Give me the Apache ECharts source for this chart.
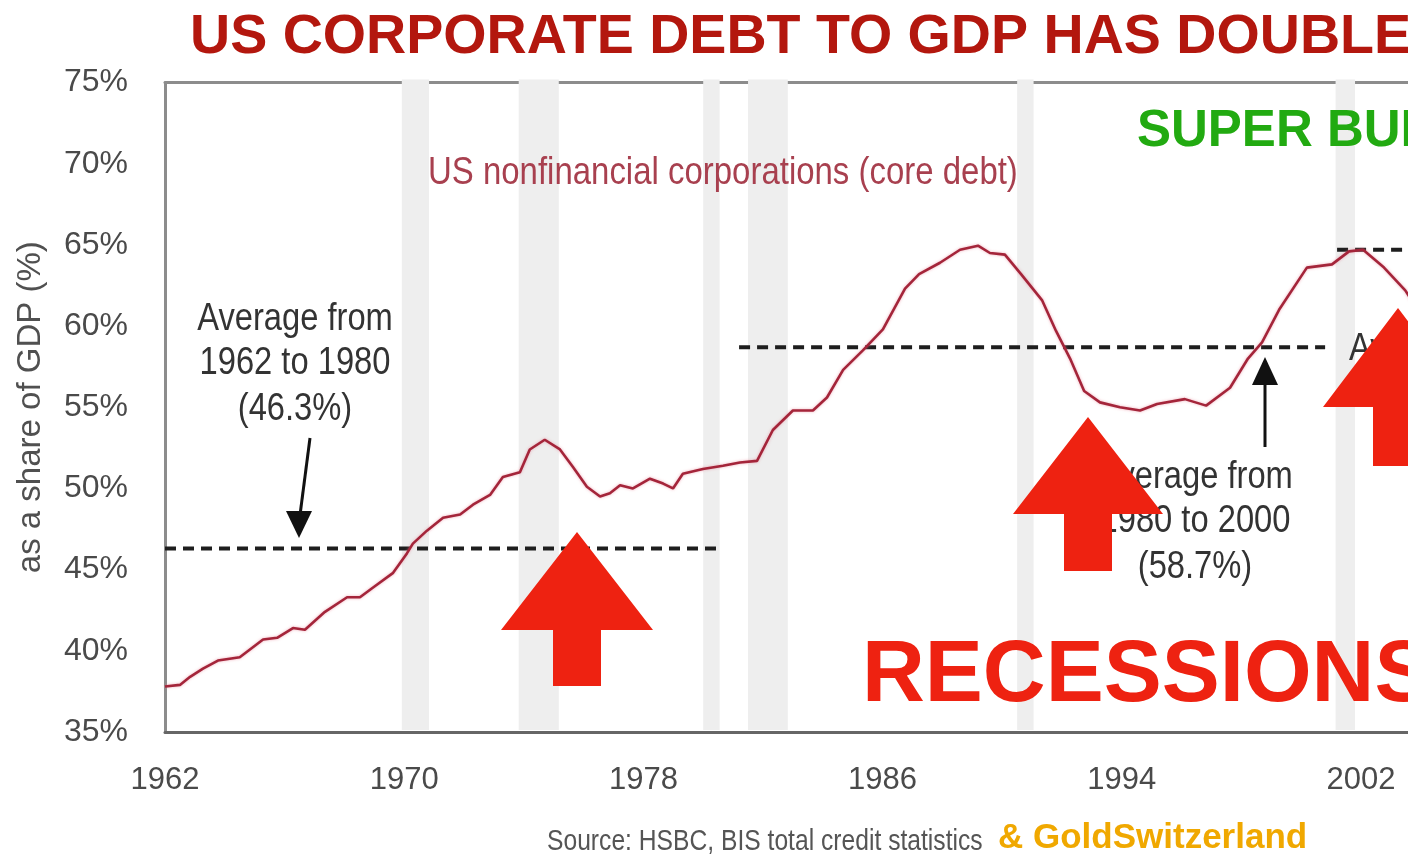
<!DOCTYPE html>
<html><head><meta charset="utf-8">
<script src="https://cdn.jsdelivr.net/npm/echarts@6/dist/echarts.min.js"></script>
<style>html,body{margin:0;padding:0;background:#fff}#c{width:1408px;height:855px}</style>
</head><body><div id="c"></div>
<script>
// ---- data ----
const years = [1962.00,1962.50,1962.84,1963.27,1963.77,1964.50,1965.28,1965.75,1966.28,1966.68,1967.35,1968.09,1968.52,1968.96,1969.63,1970.09,1970.29,1970.76,1971.30,1971.87,1972.30,1972.87,1973.30,1973.87,1974.20,1974.70,1975.21,1975.65,1976.11,1976.55,1976.88,1977.22,1977.65,1978.22,1978.66,1978.99,1979.32,1979.99,1980.66,1981.23,1981.80,1982.33,1983.00,1983.67,1984.14,1984.68,1985.34,1986.01,1986.75,1987.22,1987.92,1988.59,1989.19,1989.59,1990.09,1990.63,1991.33,1991.80,1992.27,1992.74,1993.27,1993.94,1994.61,1995.18,1996.11,1996.82,1997.62,1998.22,1998.69,1999.26,2000.19,2001.03,2001.60,2002.07,2002.77,2003.48,2003.90];
const coreDebtPct = [37.8,37.9,38.4,38.9,39.4,39.6,40.7,40.8,41.4,41.3,42.4,43.3,43.3,43.9,44.8,46.0,46.6,47.4,48.2,48.4,49.0,49.6,50.7,51.0,52.4,53.0,52.4,51.3,50.1,49.5,49.7,50.2,50.0,50.6,50.3,50.0,50.9,51.2,51.4,51.6,51.7,53.6,54.8,54.8,55.6,57.3,58.5,59.8,62.3,63.2,63.9,64.7,64.95,64.5,64.4,63.2,61.6,59.7,58.0,56.0,55.3,55.0,54.8,55.2,55.5,55.1,56.2,58.0,59.0,61.0,63.6,63.8,64.6,64.7,63.6,62.2,61.0];
const recessions = [[1969.92,1970.83],[1973.83,1975.17],[1980.0,1980.55],[1981.5,1982.83],[1990.5,1991.05],[2001.15,2001.8]];
const averages = [
  {from:1962.0, to:1980.6, value:46.3},
  {from:1981.2, to:2000.8, value:58.7},
  {from:2001.2, to:2004.5, value:64.7}
];
const xTickLabels = [1962,1970,1978,1986,1994,2002];
const yMin = 35, yMax = 75, yStep = 5;

const SANS = '"Liberation Sans",Arial,sans-serif';

const chart = echarts.init(document.getElementById('c'), null, {renderer:'canvas'});

function arrowPts(cx, tipY, baseY, bottomY, halfW, stemHalf){
  return [[cx,tipY],[cx+halfW,baseY],[cx+stemHalf,baseY],[cx+stemHalf,bottomY],[cx-stemHalf,bottomY],[cx-stemHalf,baseY],[cx-halfW,baseY]];
}
// condensed-looking text: horizontally squeezed
function ntext(x, y, text, size, fill, align, sx){
  return {type:'text', z:100, x:x, y:y, scaleX:(sx||0.86), scaleY:1,
    style:{x:0, y:0, text:text, font:size+'px '+SANS, fill:fill, align:align||'left', verticalAlign:'middle'}};
}

const series = [
  {
    type:'custom', name:'recessions', z:2, clip:false, silent:true,
    data: recessions,
    encode:{x:[0,1]},
    renderItem:function(params, api){
      const a = api.coord([api.value(0), yMax]);
      const b = api.coord([api.value(1), yMin]);
      return {type:'rect', shape:{x:a[0], y:a[1]-3, width:b[0]-a[0], height:(b[1]-2)-(a[1]-3)}, style:{fill:'#eeeeee'}};
    }
  }
];
averages.forEach(function(av){
  series.push({
    type:'line', z:3, symbol:'none', silent:true, clip:true,
    data:[[av.from, av.value],[av.to, av.value]],
    lineStyle:{color:'#1e1e1e', width:4, type:[11,7]}
  });
});
series.push({
  type:'line', z:4, symbol:'none', silent:true, clip:true,
  data: years.map(function(y,i){return [y, coreDebtPct[i]];}),
  lineStyle:{color:'#a4253a', width:2.6, shadowColor:'rgba(230,120,140,0.6)', shadowBlur:3}
});

const option = {
  backgroundColor:'#ffffff',
  animation:false,
  grid:{left:165, right:0, top:82.5, bottom:123, containLabel:false, outerBoundsMode:'none'},
  xAxis:[{
    type:'value', min:1962, max:1962 + 1243/29.9, position:'bottom',
    axisLine:{show:true, onZero:false, lineStyle:{color:'#666', width:3}},
    axisTick:{show:false},
    splitLine:{show:false},
    axisLabel:{customValues:xTickLabels, formatter:function(v){return String(v);}, fontFamily:SANS, fontSize:31, color:'#4a4a4a', margin:33}
  },{
    type:'value', min:1962, max:1962 + 1243/29.9, position:'top',
    axisLine:{show:true, onZero:false, lineStyle:{color:'#8c8c8c', width:3}},
    axisTick:{show:false}, axisLabel:{show:false}, splitLine:{show:false}
  }],
  yAxis:{
    type:'value', min:yMin, max:yMax, interval:yStep,
    axisLine:{show:true, lineStyle:{color:'#8c8c8c', width:3}},
    axisTick:{show:false}, splitLine:{show:false},
    axisLabel:{formatter:'{value}%', fontFamily:SANS, fontSize:32, color:'#4a4a4a', margin:37},
    name:'as a share of GDP (%)', nameLocation:'middle', nameGap:118, nameRotate:90,
    nameTextStyle:{fontFamily:SANS, fontSize:33, color:'#505050'}
  },
  series: series,
  graphic:[
    {type:'text', z:100, style:{x:190, y:38, text:'US CORPORATE DEBT TO GDP HAS DOUBLED', font:'bold 55.6px '+SANS, fill:'#b3170e', verticalAlign:'middle'}},
    {type:'text', z:100, style:{x:1137, y:132, text:'SUPER BUBBLE', font:'bold 51px '+SANS, fill:'#22aa11', verticalAlign:'middle'}},
    ntext(428, 173, 'US nonfinancial corporations (core debt)', 39, '#a8404f', 'left', 0.845),
    ntext(295, 320, 'Average from', 38, '#333', 'center'),
    ntext(295, 364, '1962 to 1980', 38, '#333', 'center'),
    ntext(295, 410, '(46.3%)', 38, '#333', 'center'),
    {type:'line', z:100, shape:{x1:310, y1:438, x2:300, y2:515}, style:{stroke:'#111', lineWidth:3}},
    {type:'polygon', z:100, shape:{points:[[286,511],[312,511],[299,538]]}, style:{fill:'#111'}},
    ntext(1195, 478, 'Average from', 38, '#333', 'center'),
    ntext(1195, 522, '1980 to 2000', 38, '#333', 'center'),
    ntext(1195, 568, '(58.7%)', 38, '#333', 'center'),
    {type:'line', z:100, shape:{x1:1265, y1:447, x2:1265, y2:380}, style:{stroke:'#111', lineWidth:3}},
    {type:'polygon', z:100, shape:{points:[[1252,385],[1278,385],[1265,357]]}, style:{fill:'#111'}},
    ntext(1349, 350, 'Average from', 38, '#333', 'left'),
    {type:'text', z:100, style:{x:862, y:677, text:'RECESSIONS', font:'bold 87px '+SANS, fill:'#ee2211', verticalAlign:'middle'}},
    {type:'polygon', z:110, shape:{points:arrowPts(577,532,630,686,76,24)}, style:{fill:'#ee2211'}},
    {type:'polygon', z:110, shape:{points:arrowPts(1088,417,514,571,75,24)}, style:{fill:'#ee2211'}},
    {type:'polygon', z:110, shape:{points:arrowPts(1398,308,407,466,75,25)}, style:{fill:'#ee2211'}},
    ntext(547, 842, 'Source: HSBC, BIS total credit statistics', 29, '#555', 'left', 0.85),
    {type:'text', z:100, style:{x:998, y:838, text:'& GoldSwitzerland', font:'bold 35px '+SANS, fill:'#f0a800', verticalAlign:'middle'}}
  ]
};
chart.setOption(option);
</script>
</body></html>
